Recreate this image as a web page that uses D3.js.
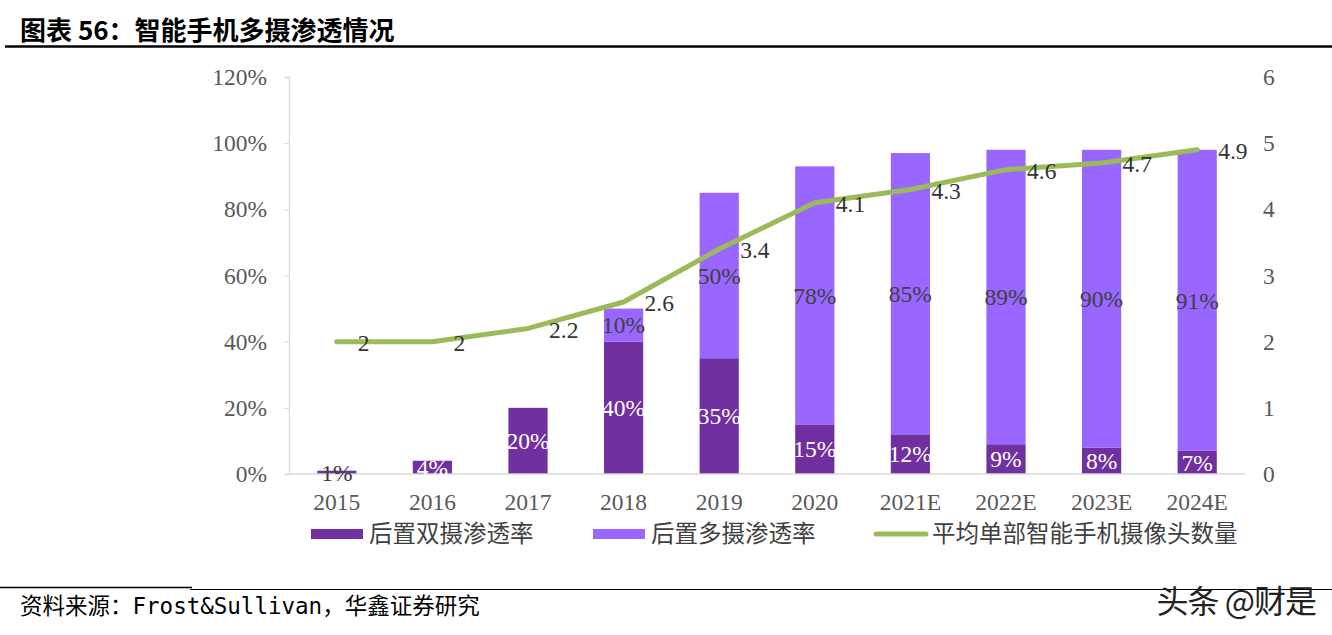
<!DOCTYPE html>
<html><head><meta charset="utf-8">
<script src="https://cdn.jsdelivr.net/npm/d3@7"></script>
<style>
html,body{margin:0;padding:0;background:#fff;}
svg{display:block;}
</style></head>
<body>
<svg id="chart" width="1332" height="635"></svg>
<script>
const categories = ["2015","2016","2017","2018","2019","2020","2021E","2022E","2023E","2024E"];
const dualRate = [0.01,0.04,0.20,0.40,0.35,0.15,0.12,0.09,0.08,0.07];
const multiRate = [0,0,0,0.10,0.50,0.78,0.85,0.89,0.90,0.91];
const avgCameras = [2,2,2.2,2.6,3.4,4.1,4.3,4.6,4.7,4.9];
const leftTicks = [0,0.2,0.4,0.6,0.8,1.0,1.2];
const rightTicks = [0,1,2,3,4,5,6];
const seriesNames = ["后置双摄渗透率","后置多摄渗透率","平均单部智能手机摄像头数量"];

const C_DUAL = "#7030A0", C_MULTI = "#9966FF", C_LINE = "#9BBB59";
const serif = "'Liberation Serif','Times New Roman',serif";
const cjk = "'Noto Sans CJK SC','Noto Sans',sans-serif";

const svg = d3.select("#chart");

// Title
svg.append("text").attr("x",20).attr("y",40)
  .attr("font-family",cjk).attr("font-weight","bold").attr("font-size",26).attr("fill","#000")
  .text("图表 56：智能手机多摄渗透情况");
svg.append("line").attr("x1",5).attr("x2",1332).attr("y1",46.5).attr("y2",46.5)
  .attr("stroke","#000").attr("stroke-width",2.5);

const x = d3.scaleBand().domain(categories).range([289,1245]).paddingInner(0.59).paddingOuter(0.295);
const yL = d3.scaleLinear().domain([0,1.2]).range([474,77]);
const yR = d3.scaleLinear().domain([0,6]).range([474,77]);

// Left axis
const gL = svg.append("g").attr("transform","translate(289,0)")
  .call(d3.axisLeft(yL).tickValues(leftTicks).tickFormat(d3.format(".0%")).tickSize(5).tickPadding(17));
gL.select(".domain").attr("stroke","#D9D9D9").attr("stroke-width",1.3);
gL.selectAll(".tick line").attr("stroke","#D9D9D9");
gL.selectAll(".tick text").attr("font-family",serif).attr("font-size",23.5).attr("fill","#595959");

// Right axis
const gR = svg.append("g").attr("transform","translate(1245,0)")
  .call(d3.axisRight(yR).tickValues(rightTicks).tickFormat(d3.format("d")).tickSize(0).tickPadding(18));
gR.select(".domain").remove();
gR.selectAll(".tick text").attr("font-family",serif).attr("font-size",23.5).attr("fill","#595959");

// Bars
const bw = x.bandwidth();
const gBars = svg.append("g");
categories.forEach((c,i)=>{
  const d = dualRate[i], m = multiRate[i];
  gBars.append("rect").attr("x",x(c)).attr("width",bw)
    .attr("y",yL(d)).attr("height",yL(0)-yL(d)).attr("fill",C_DUAL);
  if(m>0){
    gBars.append("rect").attr("x",x(c)).attr("width",bw)
      .attr("y",yL(d+m)).attr("height",yL(d)-yL(d+m)).attr("fill",C_MULTI);
  }
});

// Bottom axis
const gX = svg.append("g").attr("transform","translate(0,474)")
  .call(d3.axisBottom(x).tickSize(0).tickPadding(19));
gX.select(".domain").attr("stroke","#D9D9D9").attr("stroke-width",1.5).attr("d","M289,0H1245");
gX.selectAll(".tick text").attr("font-family",serif).attr("font-size",23.5).attr("fill","#595959");

// Bar labels
const fmt = d3.format(".0%");
categories.forEach((c,i)=>{
  const d = dualRate[i], m = multiRate[i];
  const cx = x(c)+bw/2;
  svg.append("text").attr("x",cx).attr("y",yL(d/2)).attr("dy","0.35em")
    .attr("text-anchor","middle").attr("font-family",serif).attr("font-size",23.5)
    .attr("fill", i===0 ? "#404040" : "#fff").text(fmt(d));
  if(m>0){
    svg.append("text").attr("x",cx).attr("y",yL(d+m/2)).attr("dy","0.35em")
      .attr("text-anchor","middle").attr("font-family",serif).attr("font-size",23.5)
      .attr("fill","#404040").text(fmt(m));
  }
});

// Line
const line = d3.line().x((v,i)=>x(categories[i])+bw/2).y(v=>yR(v));
svg.append("path").datum(avgCameras).attr("d",line).attr("fill","none")
  .attr("stroke",C_LINE).attr("stroke-width",5).attr("stroke-linejoin","round").attr("stroke-linecap","round");
avgCameras.forEach((v,i)=>{
  svg.append("text").attr("x",x(categories[i])+bw/2+21).attr("y",yR(v)+1).attr("dy","0.35em")
    .attr("font-family",serif).attr("font-size",23.5).attr("fill","#333").text(v);
});

// Legend
const lg = svg.append("g");
const lfs = 23.5;
lg.append("rect").attr("x",311).attr("y",529).attr("width",52).attr("height",10).attr("fill",C_DUAL);
lg.append("text").attr("x",369).attr("y",534).attr("dy","0.35em").attr("font-family",cjk).attr("font-size",lfs).attr("fill","#404040").text(seriesNames[0]);
lg.append("rect").attr("x",593).attr("y",529).attr("width",52).attr("height",10).attr("fill",C_MULTI);
lg.append("text").attr("x",651).attr("y",534).attr("dy","0.35em").attr("font-family",cjk).attr("font-size",lfs).attr("fill","#404040").text(seriesNames[1]);
lg.append("line").attr("x1",876).attr("x2",926).attr("y1",534).attr("y2",534).attr("stroke",C_LINE).attr("stroke-width",5).attr("stroke-linecap","round");
lg.append("text").attr("x",932).attr("y",534).attr("dy","0.35em").attr("font-family",cjk).attr("font-size",lfs).attr("fill","#404040").text(seriesNames[2]);

// Source line & text
svg.append("line").attr("x1",0).attr("x2",192).attr("y1",587.5).attr("y2",587.5).attr("stroke","#000").attr("stroke-width",1.5);
svg.append("line").attr("x1",190).attr("x2",1332).attr("y1",589.5).attr("y2",589.5).attr("stroke","#000").attr("stroke-width",1.2);
svg.append("text").attr("x",20).attr("y",614)
  .attr("font-family","'DejaVu Sans Mono','Noto Sans CJK SC',monospace").attr("font-size",22.5).attr("fill","#000")
  .text("资料来源：Frost&Sullivan，华鑫证券研究");

// Watermark
svg.append("text").attr("x",1316).attr("y",613).attr("text-anchor","end")
  .attr("font-family",cjk).attr("font-size",32).attr("fill","#222").attr("letter-spacing",-1)
  .text("头条 @财是");
</script>
</body></html>
